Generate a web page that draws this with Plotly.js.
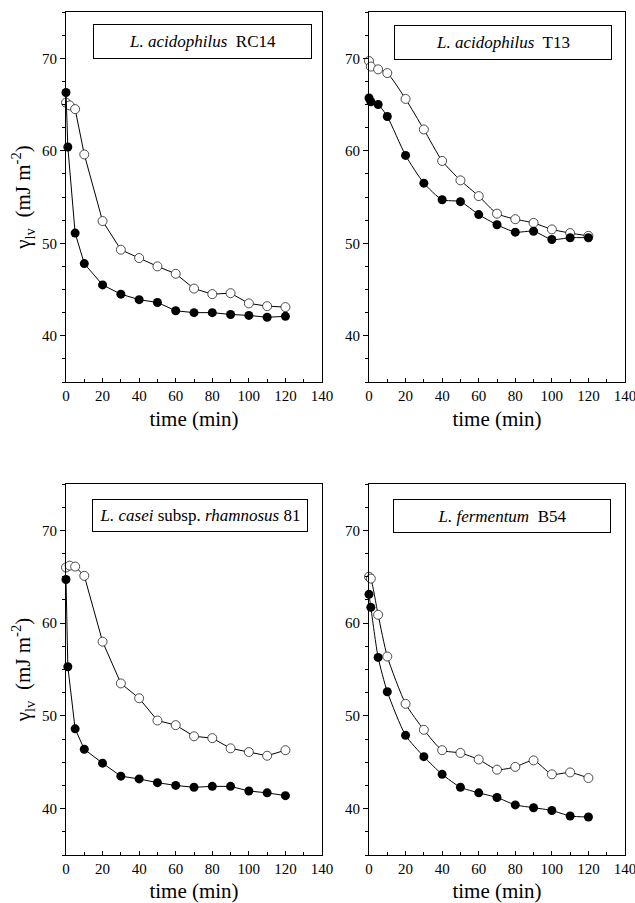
<!DOCTYPE html>
<html>
<head>
<meta charset="utf-8">
<script src="https://cdn.plot.ly/plotly-3.0.1.min.js"></script>
<style>
  html, body { margin: 0; padding: 0; background: #fff; }
  #chart { width: 635px; height: 903px; }
</style>
</head>
<body>
<div id="chart"></div>
<script>
// ---------- data ----------
const panelTitles = [
  "<i>L. acidophilus</i>  RC14",
  "<i>L. acidophilus</i>  T13",
  "<i>L. casei</i> subsp. <i>rhamnosus</i> 81",
  "<i>L. fermentum</i>  B54"
];

const xTickVals = [0, 20, 40, 60, 80, 100, 120, 140];
const yTickVals = [40, 50, 60, 70];

// RC14
const rc14OpenTime   = [0, 2, 5, 10, 20, 30, 40, 50, 60, 70, 80, 90, 100, 110, 120];
const rc14OpenVal    = [65.2, 64.9, 64.5, 59.6, 52.4, 49.3, 48.4, 47.5, 46.7, 45.1, 44.5, 44.6, 43.5, 43.2, 43.1];
const rc14FilledTime = [0, 1, 5, 10, 20, 30, 40, 50, 60, 70, 80, 90, 100, 110, 120];
const rc14FilledVal  = [66.3, 60.4, 51.1, 47.8, 45.5, 44.5, 43.9, 43.6, 42.7, 42.5, 42.5, 42.3, 42.2, 42.0, 42.1];

// T13
const t13OpenTime   = [0, 1, 5, 10, 20, 30, 40, 50, 60, 70, 80, 90, 100, 110, 120];
const t13OpenVal    = [69.7, 69.1, 68.8, 68.4, 65.6, 62.3, 58.9, 56.8, 55.1, 53.2, 52.6, 52.2, 51.5, 51.1, 50.8];
const t13FilledTime = [0, 1, 5, 10, 20, 30, 40, 50, 60, 70, 80, 90, 100, 110, 120];
const t13FilledVal  = [65.7, 65.3, 65.0, 63.7, 59.5, 56.5, 54.7, 54.5, 53.1, 52.0, 51.2, 51.3, 50.4, 50.6, 50.6];

// rhamnosus 81
const r81OpenTime   = [0, 2, 5, 10, 20, 30, 40, 50, 60, 70, 80, 90, 100, 110, 120];
const r81OpenVal    = [66.0, 66.2, 66.1, 65.1, 58.0, 53.5, 51.9, 49.5, 49.0, 47.8, 47.6, 46.5, 46.1, 45.7, 46.3];
const r81FilledTime = [0, 1, 5, 10, 20, 30, 40, 50, 60, 70, 80, 90, 100, 110, 120];
const r81FilledVal  = [64.7, 55.3, 48.6, 46.4, 44.9, 43.5, 43.2, 42.8, 42.5, 42.3, 42.4, 42.4, 41.9, 41.7, 41.4];

// B54
const b54OpenTime   = [0, 1, 5, 10, 20, 30, 40, 50, 60, 70, 80, 90, 100, 110, 120];
const b54OpenVal    = [65.0, 64.8, 60.9, 56.4, 51.3, 48.5, 46.3, 46.0, 45.3, 44.2, 44.5, 45.2, 43.7, 43.9, 43.3];
const b54FilledTime = [0, 1, 5, 10, 20, 30, 40, 50, 60, 70, 80, 90, 100, 110, 120];
const b54FilledVal  = [63.1, 61.7, 56.3, 52.6, 47.9, 45.6, 43.7, 42.3, 41.7, 41.2, 40.4, 40.1, 39.8, 39.2, 39.1];

// ---------- styling / layout ----------
const FONT = 'Liberation Serif, Times New Roman, Times, serif';
const W = 635, H = 903;

const panels = [
  {open: [rc14OpenTime, rc14OpenVal], filled: [rc14FilledTime, rc14FilledVal], smooth: false,
   px: [66, 322], py: [12, 382], yTitle: true},
  {open: [t13OpenTime, t13OpenVal], filled: [t13FilledTime, t13FilledVal], smooth: true,
   px: [369, 625], py: [12, 382], yTitle: false},
  {open: [r81OpenTime, r81OpenVal], filled: [r81FilledTime, r81FilledVal], smooth: false,
   px: [66, 322], py: [484, 855], yTitle: true},
  {open: [b54OpenTime, b54OpenVal], filled: [b54FilledTime, b54FilledVal], smooth: true,
   px: [369, 625], py: [484, 855], yTitle: false}
];
const boxes = [
  {x: [93, 312], y: [24, 59]},
  {x: [394, 612], y: [25, 60]},
  {x: [92, 308], y: [499, 532]},
  {x: [393, 611], y: [499, 533]}
];

const traces = [];
const layout = {
  width: W, height: H,
  margin: {l: 0, r: 0, t: 0, b: 0},
  paper_bgcolor: '#fff', plot_bgcolor: '#fff',
  showlegend: false,
  font: {family: FONT, color: '#000', size: 14},
  annotations: []
};

panels.forEach((p, i) => {
  const n = i + 1;
  const xa = n === 1 ? 'x' : 'x' + n;
  const ya = n === 1 ? 'y' : 'y' + n;
  const lineShape = p.smooth ? {color: '#000', width: 1, shape: 'spline', smoothing: 0.6}
                             : {color: '#000', width: 1};
  traces.push({
    type: 'scatter', mode: 'lines+markers', xaxis: xa, yaxis: ya,
    x: p.open[0], y: p.open[1], cliponaxis: false,
    line: lineShape,
    marker: {symbol: 'circle', size: 9, color: '#fff', line: {color: '#222', width: 0.8}}
  });
  traces.push({
    type: 'scatter', mode: 'lines+markers', xaxis: xa, yaxis: ya,
    x: p.filled[0], y: p.filled[1], cliponaxis: false,
    line: lineShape,
    marker: {symbol: 'circle', size: 9, color: '#000', line: {color: '#000', width: 0}}
  });

  const xKey = n === 1 ? 'xaxis' : 'xaxis' + n;
  const yKey = n === 1 ? 'yaxis' : 'yaxis' + n;
  layout[xKey] = {
    domain: [p.px[0] / W, p.px[1] / W],
    anchor: ya,
    range: [0, 140],
    tickvals: xTickVals,
    ticktext: xTickVals.map(String),
    ticks: 'inside', ticklen: 4, tickwidth: 1, tickcolor: '#000',
    minor: {dtick: 10, tick0: 0, ticks: 'inside', ticklen: 3, tickcolor: '#000', showgrid: false},
    showline: true, linecolor: '#000', linewidth: 1, mirror: true,
    showgrid: false, zeroline: false,
    ticklabeloverflow: 'allow',
    tickfont: {family: FONT, size: 15, color: '#000'},
    title: {text: 'time (min)', font: {family: FONT, size: 21, color: '#000'}, standoff: 8},
    automargin: false
  };
  const yax = {
    domain: [(H - p.py[1]) / H, (H - p.py[0]) / H],
    anchor: xa,
    range: [35, 75],
    tickvals: yTickVals,
    ticktext: yTickVals.map(String),
    ticks: 'outside', ticklen: 5, tickwidth: 1, tickcolor: '#000',
    minor: {dtick: 2.5, tick0: 0, ticks: 'outside', ticklen: 3, tickcolor: '#000', showgrid: false},
    showline: true, linecolor: '#000', linewidth: 1, mirror: true,
    showgrid: false, zeroline: false,
    tickfont: {family: FONT, size: 15, color: '#000'},
    automargin: false
  };
  if (p.yTitle) {
    yax.title = {text: 'γ<sub>lv</sub>  (mJ m<sup>-2</sup>)', font: {family: FONT, size: 21, color: '#000'}, standoff: 5};
  }
  layout[yKey] = yax;

  const b = boxes[i];
  layout.annotations.push({
    xref: 'paper', yref: 'paper',
    x: (b.x[0] + b.x[1]) / 2 / W,
    y: (H - (b.y[0] + b.y[1]) / 2) / H,
    xanchor: 'center', yanchor: 'middle',
    text: panelTitles[i],
    showarrow: false,
    width: b.x[1] - b.x[0] - 2,
    height: b.y[1] - b.y[0] - 2,
    borderpad: 0,
    bordercolor: '#000', borderwidth: 1, bgcolor: '#fff',
    font: {family: FONT, size: 17, color: '#000'}
  });
});

Plotly.newPlot('chart', traces, layout, {staticPlot: true, displayModeBar: false});
</script>
</body>
</html>
